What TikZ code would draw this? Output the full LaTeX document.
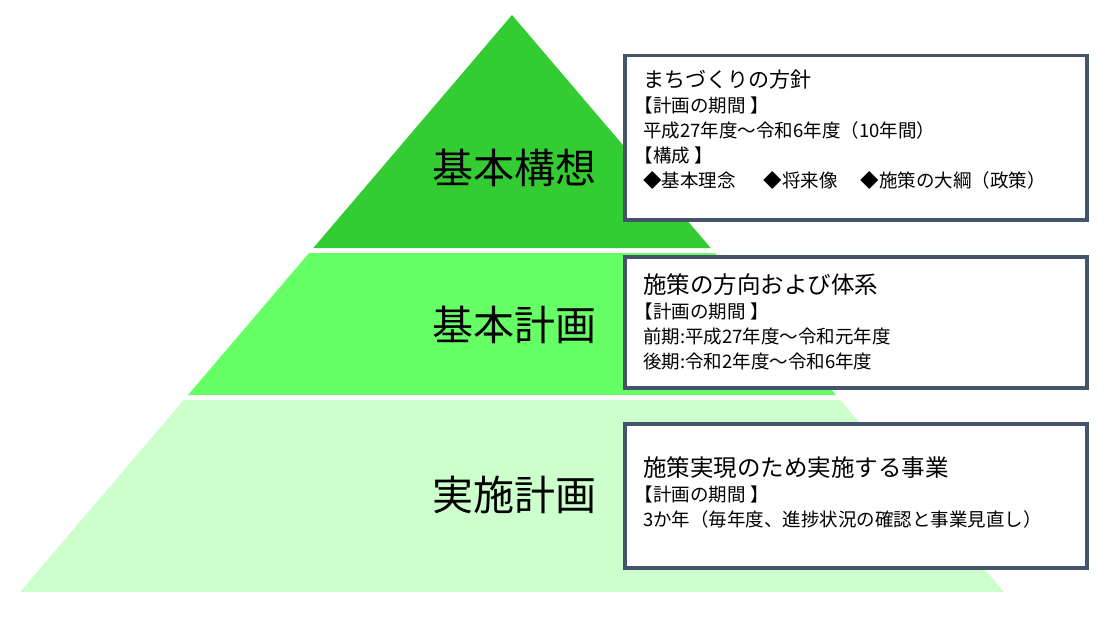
\documentclass[tikz,border=0pt]{standalone}
\usepackage{fontspec}
\setmainfont{Noto Sans CJK JP}
\definecolor{koimidori}{RGB}{51,204,51}
\definecolor{midori}{RGB}{102,255,102}
\definecolor{usumidori}{RGB}{204,255,204}
\definecolor{wakuiro}{RGB}{68,84,106}
\newcommand{\midashi}[1]{\fontsize{#1}{25}\selectfont}
\newcommand{\kakko}{\hspace*{-0.45em}}
\tikzset{
	zu/.style={x=1pt, y=-1pt, font=\fontsize{18.5}{25}\selectfont},
	kaisou/.style={font=\fontsize{41}{45}\selectfont, inner sep=0pt},
	waku/.style={draw=wakuiro, line width=3.5pt, fill=white, minimum width=462pt, inner sep=0pt},
	honbun/.style={anchor=north west, align=left, inner sep=0pt},
}
\begin{document}
\begin{tikzpicture}[zu]
\useasboundingbox (0,0) rectangle (1111,619);

% ---------- ピラミッド ----------
\fill[koimidori] (512,15) -- (710.7,248) -- (313.3,248) -- cycle;
\fill[midori] (309,253) -- (715,253) -- (836,395) -- (188,395) -- cycle;
\fill[usumidori] (183.6,400) -- (840.4,400) -- (1004,592) -- (20,592) -- cycle;

\node[kaisou] (kousou) at (514,168) {基本構想};
\node[kaisou] (kihon) at (514,325) {基本計画};
\node[kaisou] (jisshi) at (514,495) {実施計画};

% ---------- 説明 ----------
\node[waku, minimum height=164.5pt] (waku1) at (856,137.7) {};
\node[waku, minimum height=131pt] (waku2) at (856,322.5) {};
\node[waku, minimum height=144pt] (waku3) at (856,496) {};

\node[honbun] (hoshin) at (643,70)
    {{\midashi{21}まちづくりの方針}\\\kakko【計画の期間 】\\平成27年度～令和6年度（10年間）\\\kakko【構成 】\\
     ◆基本理念\hspace{28pt}◆将来像\hspace{23pt}◆施策の大綱（政策）};
\node[honbun] (taikei) at (643,273)
    {{\midashi{23.5}施策の方向および体系}\\\kakko【計画の期間 】\\前期:平成27年度～令和元年度\\後期:令和2年度～令和6年度};
\node[honbun] (jigyou) at (643,456)
    {{\midashi{23.5}施策実現のため実施する事業}\\\kakko【計画の期間 】\\3か年（毎年度、進捗状況の確認と事業見直し）};

\end{tikzpicture}
\end{document}
